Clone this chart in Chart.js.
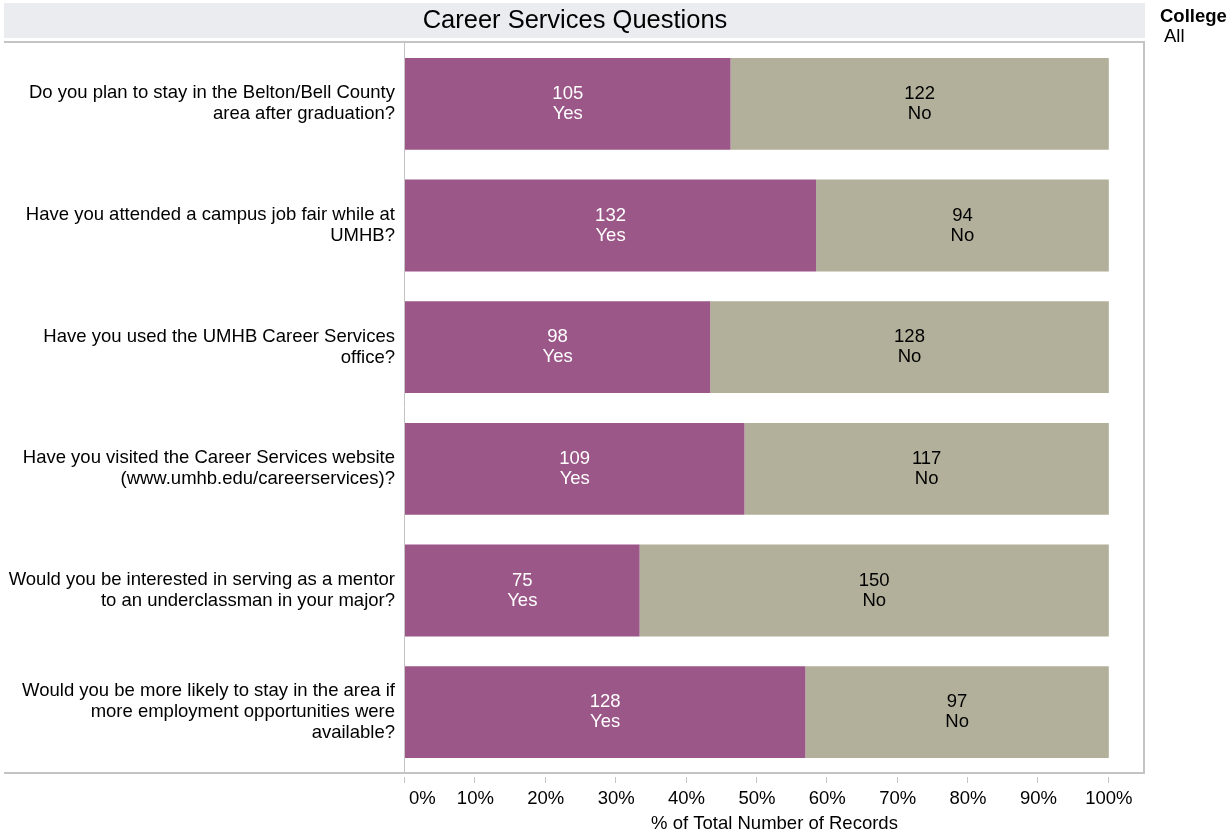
<!DOCTYPE html>
<html>
<head>
<meta charset="utf-8">
<script src="https://cdn.jsdelivr.net/npm/chart.js@4.4.1/dist/chart.umd.min.js"></script>
<style>
  html, body { margin: 0; padding: 0; background: #fff; }
  #wrap { width: 1230px; height: 837px; position: relative; }
</style>
</head>
<body>
<div id="wrap"><canvas id="mycanvas" width="1230" height="837"></canvas></div>
<script>
// questions (multi-line labels as shown)
var questions = [
  ["Do you plan to stay in the Belton/Bell County", "area after graduation?"],
  ["Have you attended a campus job fair while at", "UMHB?"],
  ["Have you used the UMHB Career Services", "office?"],
  ["Have you visited the Career Services website", "(www.umhb.edu/careerservices)?"],
  ["Would you be interested in serving as a mentor", "to an underclassman in your major?"],
  ["Would you be more likely to stay in the area if", "more employment opportunities were", "available?"]
];
var yesCounts = [105, 132, 98, 109, 75, 128];
var noCounts = [122, 94, 128, 117, 150, 97];
var xTicks = [0, 10, 20, 30, 40, 50, 60, 70, 80, 90, 100];

var yesPct = [];
var noPct = [];
for (var i in yesCounts) {
  var tot = yesCounts[i] + noCounts[i];
  yesPct.push(yesCounts[i] / tot * 100);
  noPct.push(noCounts[i] / tot * 100);
}

var FONT = "'Liberation Sans', Arial, sans-serif";
var LINE = '#c4c4c4';

var framePlugin = {
  id: 'frame',
  beforeDraw: function(chart) {
    var c = chart.ctx, a = chart.chartArea;
    c.save();
    // title band
    c.fillStyle = '#ebecf0';
    c.fillRect(4, 3, 1141, 35);
    c.fillStyle = '#000';
    c.font = '25.5px ' + FONT;
    c.textAlign = 'center';
    c.textBaseline = 'middle';
    c.fillText('Career Services Questions', 575, 21);
    // legend
    c.textAlign = 'left';
    c.font = 'bold 18.5px ' + FONT;
    c.fillText('College', 1160, 17);
    c.font = '18.5px ' + FONT;
    c.fillText('All', 1164, 37);
    // frame lines
    c.strokeStyle = LINE;
    c.lineWidth = 2;
    c.beginPath();
    c.moveTo(4, 42); c.lineTo(a.right + 1, 42);
    c.moveTo(4, a.bottom); c.lineTo(a.right + 1, a.bottom);
    c.moveTo(a.right, 42); c.lineTo(a.right, a.bottom);
    c.stroke();
    c.lineWidth = 1;
    c.beginPath();
    c.moveTo(a.left - 0.5, 42); c.lineTo(a.left - 0.5, a.bottom);
    c.stroke();
    // tick marks and tick labels under the axis
    var xs = chart.scales.x;
    c.beginPath();
    xTicks.forEach(function(v) {
      var px = Math.round(xs.getPixelForValue(v)) - 0.5;
      c.moveTo(px, a.bottom + 4); c.lineTo(px, a.bottom + 10);
    });
    c.stroke();
    c.fillStyle = '#000';
    c.font = '18.5px ' + FONT;
    c.textBaseline = 'middle';
    xTicks.forEach(function(v, k) {
      var px = xs.getPixelForValue(v);
      if (k === 0) { c.textAlign = 'left'; px += 4; } else { c.textAlign = 'center'; }
      c.fillText(v + '%', px, a.bottom + 26);
    });
    c.restore();
  },
  afterDatasetsDraw: function(chart) {
    var c = chart.ctx;
    c.save();
    c.font = '18.5px ' + FONT;
    c.textAlign = 'center';
    c.textBaseline = 'middle';
    chart.data.datasets.forEach(function(ds, di) {
      var meta = chart.getDatasetMeta(di);
      meta.data.forEach(function(bar, j) {
        var cx = (bar.base + bar.x) / 2;
        c.fillStyle = di === 0 ? '#ffffff' : '#000000';
        c.fillText(String(ds.counts[j]), cx, bar.y - 10);
        c.fillText(ds.label, cx, bar.y + 10);
      });
    });
    c.restore();
  }
};

var ctx = document.getElementById('mycanvas');
var barGraph = new Chart(ctx, {
  type: 'bar',
  data: {
    labels: questions,
    datasets: [
      { label: 'Yes', data: yesPct, counts: yesCounts, backgroundColor: '#9b5788' },
      { label: 'No', data: noPct, counts: noCounts, backgroundColor: '#b2b09a' }
    ]
  },
  options: {
    indexAxis: 'y',
    responsive: false,
    animation: false,
    devicePixelRatio: 1,
    layout: { padding: { left: 4, top: 43, right: 86, bottom: 0 } },
    plugins: { legend: { display: false }, tooltip: { enabled: false } },
    datasets: { bar: { categoryPercentage: 1, barPercentage: 0.755, borderWidth: 0 } },
    scales: {
      x: {
        stacked: true,
        min: 0,
        max: 105,
        afterBuildTicks: function(s) { s.ticks = xTicks.map(function(v) { return { value: v }; }); },
        afterFit: function(s) { s.height = 64; },
        grid: { display: false },
        border: { display: false },
        ticks: { display: false },
        title: {
          display: true,
          text: '% of Total Number of Records',
          color: '#000',
          font: { family: FONT, size: 18.5 },
          padding: { top: 40, bottom: 2 }
        }
      },
      y: {
        stacked: true,
        afterFit: function(s) { s.width = 401; },
        grid: { display: false },
        border: { display: false },
        ticks: {
          color: '#000',
          font: { family: FONT, size: 18.5, lineHeight: 1.13 },
          padding: 2
        }
      }
    }
  },
  plugins: [framePlugin]
});
</script>
</body>
</html>
